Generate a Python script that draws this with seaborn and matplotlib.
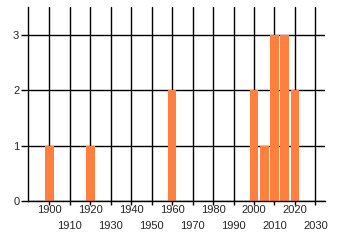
import matplotlib
matplotlib.use("Agg")
import matplotlib.pyplot as plt
import seaborn as sns
import pandas as pd

years = [1900, 1920, 1960, 2000, 2005, 2010, 2015, 2020]
counts = [1, 1, 2, 2, 1, 3, 3, 2]
xticks = list(range(1900, 2031, 10))
yticks = [0, 1, 2, 3]

df = pd.DataFrame({"year": years, "count": counts})

sns.set_style("white")
plt.rcParams["font.family"] = ["Liberation Sans", "DejaVu Sans"]

fig = plt.figure(figsize=(3.4, 2.45), dpi=100)
ax = fig.add_axes([28.3 / 340, 44 / 245, (325 - 28.3) / 340, (201 - 7) / 245])

# gridlines
for x in xticks:
    ax.axvline(x, color="black", lw=1.0, zorder=1)
for y in yticks:
    ax.axhline(y, color="black", lw=1.0, zorder=1)

ax.bar(df["year"], df["count"], width=4.2, color="#FF7F3F", zorder=2, linewidth=0)

ax.set_xlim(1889.7, 2034.7)
ax.set_ylim(0, 3.51)
ax.set_xticks(xticks)
ax.set_xticklabels([])
ax.set_yticks(yticks)
ax.set_yticklabels([str(v) for v in yticks], fontsize=8)
ax.tick_params(axis="x", bottom=True, length=3, width=1, color="black", pad=1)
ax.tick_params(axis="y", left=True, length=5, width=1, color="black", pad=1.5)

for i, x in enumerate(xticks):
    off = 0 if i % 2 == 0 else -16
    ax.annotate(str(x), xy=(x, 0), xycoords=("data", "axes fraction"),
                xytext=(0, -4 + off), textcoords="offset pixels",
                ha="center", va="top", fontsize=8)

for s in ["top", "right"]:
    ax.spines[s].set_visible(False)
for s in ["left", "bottom"]:
    ax.spines[s].set_color("black")
    ax.spines[s].set_linewidth(1.0)

ax.set_xlabel("")
ax.set_ylabel("")
fig.savefig("out.png", dpi=100)
